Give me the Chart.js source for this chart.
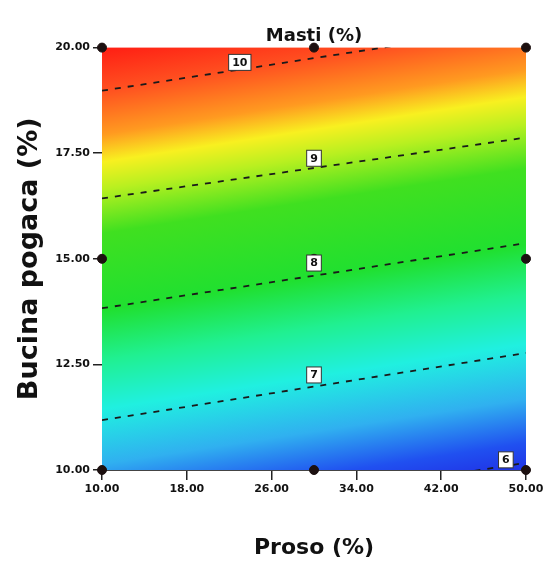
<!DOCTYPE html>
<html>
<head>
<meta charset="utf-8">
<script src="https://cdn.jsdelivr.net/npm/chart.js@4/dist/chart.umd.min.js"></script>
<style>
  html, body { margin: 0; padding: 0; background: #fff; }
  #wrap { width: 548px; height: 574px; }
</style>
</head>
<body>
<div id="wrap"><canvas id="c"></canvas></div>
<script>
const xTicks = [10, 18, 26, 34, 42, 50];
const yTicks = [10, 12.5, 15, 17.5, 20];

// design points (Proso, Bucina pogaca)
const designX = [10, 10, 10, 30, 30, 30, 50, 50, 50];
const designY = [10, 15, 20, 10, 15, 20, 10, 15, 20];

// contour lines of Masti (%), Y read at Proso = 10 and Proso = 50
const contourLevels = [10, 9, 8, 7, 6];
const contourLeftY = [18.98, 16.43, 13.83, 11.18, 8.6];
const contourRightY = [20.52, 17.87, 15.37, 12.77, 10.17];
const labelX = [23.0, 30.0, 30.0, 30.0, 48.1];
const labelY = [19.65, 17.38, 14.9, 12.25, 10.24];

const font = '"DejaVu Sans", "Liberation Sans", sans-serif';

// rainbow fill by Masti value
const colorStops = [
  [10.5, "#ff1010"],
  [10.0, "#ff5020"],
  [9.6, "#ff9a20"],
  [9.35, "#f8f020"],
  [9.1, "#b8f020"],
  [8.7, "#40e020"],
  [8.0, "#20e030"],
  [7.55, "#20f090"],
  [7.1, "#20f0e0"],
  [6.6, "#30b0f0"],
  [6.2, "#2050f0"],
  [5.8, "#2020e0"],
];

const surfaceFill = {
  id: "surfaceFill",
  beforeDatasetsDraw(chart) {
    const { ctx, chartArea, scales } = chart;
    const xs = scales.x, ys = scales.y;
    const p = (x, y) => ({ x: xs.getPixelForValue(x), y: ys.getPixelForValue(y) });
    const a0 = p(xTicks[0], contourLeftY[0]);
    const b0 = p(xTicks[xTicks.length - 1], contourRightY[0]);
    const a3 = p(xTicks[0], contourLeftY[3]);
    let dx = b0.x - a0.x, dy = b0.y - a0.y;
    const len = Math.hypot(dx, dy);
    dx /= len; dy /= len;
    let nx = -dy, ny = dx;
    if (ny < 0) { nx = -nx; ny = -ny; }
    const perLevel = ((a3.x - a0.x) * nx + (a3.y - a0.y) * ny) / (contourLevels[0] - contourLevels[3]);
    const vHi = colorStops[0][0], vLo = colorStops[colorStops.length - 1][0];
    const top = contourLevels[0];
    const g = ctx.createLinearGradient(
      a0.x + nx * (top - vHi) * perLevel, a0.y + ny * (top - vHi) * perLevel,
      a0.x + nx * (top - vLo) * perLevel, a0.y + ny * (top - vLo) * perLevel
    );
    colorStops.forEach(([v, c]) => g.addColorStop((vHi - v) / (vHi - vLo), c));
    ctx.save();
    ctx.fillStyle = g;
    ctx.fillRect(chartArea.left, chartArea.top, chartArea.right - chartArea.left, chartArea.bottom - chartArea.top);
    ctx.restore();
  },
};

const contourLabels = {
  id: "contourLabels",
  afterDatasetsDraw(chart) {
    const { ctx, scales } = chart;
    ctx.save();
    ctx.font = `bold 11px ${font}`;
    ctx.textAlign = "center";
    ctx.textBaseline = "middle";
    contourLevels.forEach((lv, i) => {
      const x = scales.x.getPixelForValue(labelX[i]);
      const y = scales.y.getPixelForValue(labelY[i]);
      const t = String(lv);
      const w = ctx.measureText(t).width + 7;
      ctx.fillStyle = "#fff";
      ctx.fillRect(x - w / 2, y - 8, w, 16);
      ctx.strokeStyle = "#333";
      ctx.lineWidth = 1;
      ctx.strokeRect(x - w / 2, y - 8, w, 16);
      ctx.fillStyle = "#111";
      ctx.fillText(t, x, y + 0.5);
    });
    ctx.restore();
  },
};

const contourSets = contourLevels.map((lv, i) => ({
  type: "line",
  label: `Masti ${lv}`,
  data: [
    { x: xTicks[0], y: contourLeftY[i] },
    { x: xTicks[xTicks.length - 1], y: contourRightY[i] },
  ],
  borderColor: "#1a1a1a",
  borderWidth: 1.8,
  borderDash: [6, 7],
  pointRadius: 0,
  fill: false,
}));

new Chart(document.getElementById("c"), {
  type: "scatter",
  data: {
    datasets: [
      ...contourSets,
      {
        label: "Design",
        data: designX.map((x, i) => ({ x, y: designY[i] })),
        clip: false,
        pointRadius: 4.5,
        pointBackgroundColor: "#1c1010",
        pointBorderColor: "#1c1010",
      },
    ],
  },
  options: {
    responsive: true,
    maintainAspectRatio: false,
    animation: false,
    layout: { padding: { top: 0, right: 22, bottom: 0, left: 0 } },
    plugins: {
      legend: { display: false },
      tooltip: { enabled: false },
      title: {
        display: true,
        text: "Masti (%)",
        fullSize: false,
        color: "#111",
        font: { family: font, size: 18, weight: "bold", lineHeight: 1.2 },
        padding: { top: 26, bottom: 0 },
      },
    },
    scales: {
      x: {
        type: "linear",
        min: 10,
        max: 50,
        afterBuildTicks(s) { s.ticks = xTicks.map((v) => ({ value: v })); },
        afterFit(s) { s.height = 104; },
        grid: { drawOnChartArea: false, color: "#222", lineWidth: 1.5, tickLength: 10 },
        border: { display: true, color: "#444", width: 1 },
        ticks: {
          color: "#111",
          padding: 3,
          maxRotation: 0,
          font: { family: font, size: 11, weight: "bold" },
          callback: (v) => Number(v).toFixed(2),
        },
        title: {
          display: true,
          text: "Proso (%)",
          color: "#111",
          font: { family: font, size: 22, weight: "bold", lineHeight: 1.2 },
          padding: { top: 0, bottom: 13 },
        },
      },
      y: {
        type: "linear",
        min: 10,
        max: 20,
        afterBuildTicks(s) { s.ticks = yTicks.map((v) => ({ value: v })); },
        afterFit(s) { s.width = 102; },
        grid: { drawOnChartArea: false, color: "#222", lineWidth: 1.5, tickLength: 9 },
        border: { display: false },
        ticks: {
          color: "#111",
          padding: 3,
          font: { family: font, size: 11, weight: "bold" },
          callback: (v) => Number(v).toFixed(2),
        },
        title: {
          display: true,
          text: "Bucina pogaca (%)",
          color: "#111",
          font: { family: font, size: 27, weight: "bold", lineHeight: 1.2 },
          padding: { top: 14, bottom: 0 },
        },
      },
    },
  },
  plugins: [surfaceFill, contourLabels],
});
</script>
</body>
</html>
